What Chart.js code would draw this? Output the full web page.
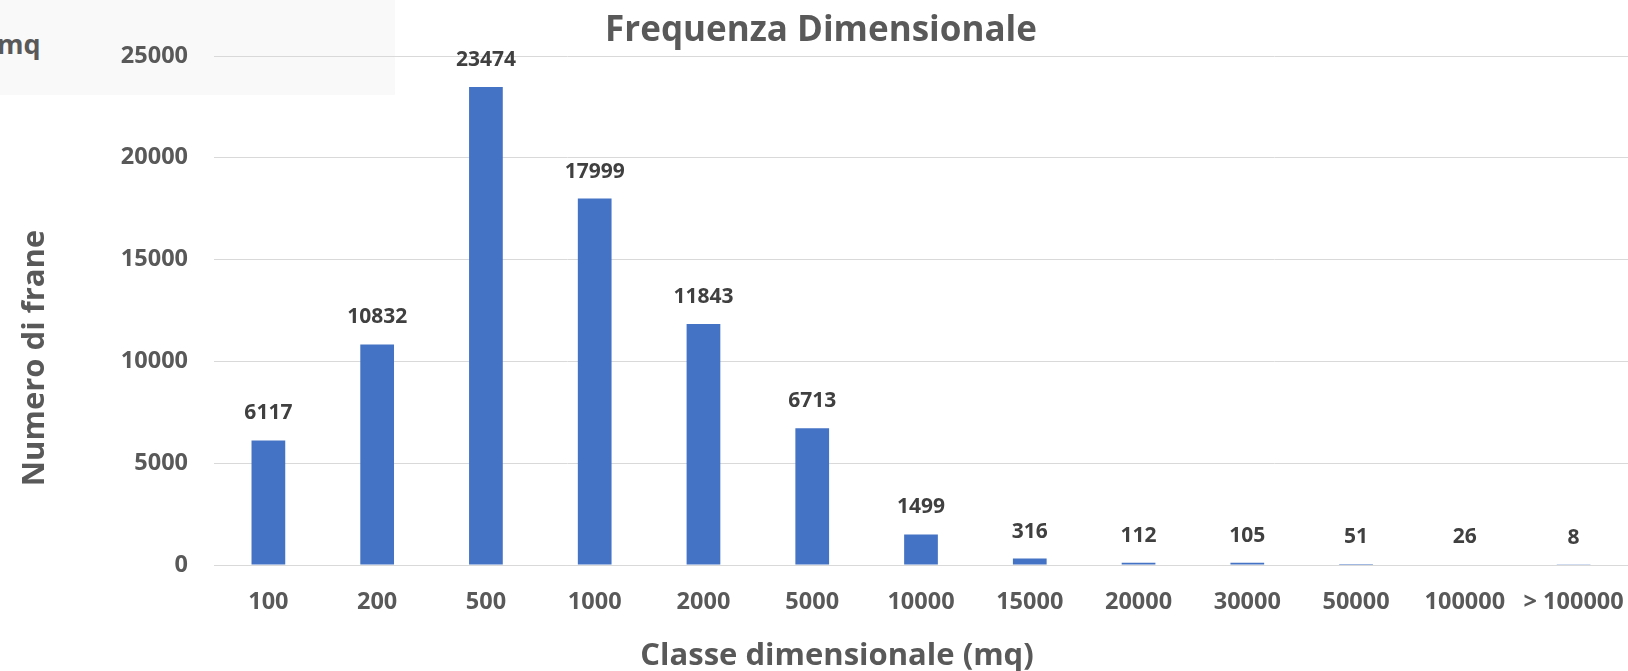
<!DOCTYPE html>
<html>
<head>
<meta charset="utf-8">
<script src="https://cdn.jsdelivr.net/npm/chart.js@4.4.0/dist/chart.umd.min.js"></script>
<style>
  html, body { margin: 0; padding: 0; background: #fff; }
  #wrap { position: relative; width: 1628px; height: 671px; overflow: hidden; }
  #box { position: absolute; left: 0; top: 0; width: 395px; height: 95px; background: #f9f9f9; }
  #box span { position: absolute; left: -3px; top: 25px; font: bold 27px "Open Sans", sans-serif; color: #595959; }
  canvas { position: absolute; left: 0; top: 0; }
</style>
</head>
<body>
<div id="wrap">
  <div id="box"><span>mq</span></div>
  <canvas id="chart" width="1628" height="671"></canvas>
</div>
<script>
const classi = ["100", "200", "500", "1000", "2000", "5000", "10000", "15000", "20000", "30000", "50000", "100000", "> 100000"];
const numeroFrane = [6117, 10832, 23474, 17999, 11843, 6713, 1499, 316, 112, 105, 51, 26, 8];
const yTicks = [0, 5000, 10000, 15000, 20000, 25000];

const grigio = "#595959";
const fontBase = "'Open Sans', sans-serif";

// etichette dei valori sopra le barre
const etichette = {
  id: "etichette",
  afterDatasetsDraw(chart) {
    const ctx = chart.ctx;
    const meta = chart.getDatasetMeta(0);
    ctx.save();
    ctx.font = "bold 21px " + fontBase;
    ctx.fillStyle = "#404040";
    ctx.textAlign = "center";
    ctx.textBaseline = "middle";
    meta.data.forEach((bar, i) => {
      ctx.fillText(numeroFrane[i], bar.x, bar.y - 27);
    });
    ctx.restore();
  }
};

// titolo e titoli degli assi
const testi = {
  id: "testi",
  afterDraw(chart) {
    const ctx = chart.ctx;
    ctx.save();
    ctx.fillStyle = grigio;
    ctx.textAlign = "center";
    ctx.textBaseline = "middle";
    ctx.font = "bold 35px " + fontBase;
    ctx.fillText("Frequenza Dimensionale", 821, 31);
    ctx.font = "bold 31px " + fontBase;
    ctx.fillText("Classe dimensionale (mq)", 837, 656);
    ctx.translate(35, 358);
    ctx.rotate(-Math.PI / 2);
    ctx.fillText("Numero di frane", 0, 0);
    ctx.restore();
  }
};

new Chart(document.getElementById("chart"), {
  type: "bar",
  data: {
    labels: classi,
    datasets: [{
      data: numeroFrane,
      backgroundColor: "#4472C4",
      barPercentage: 0.31,
      categoryPercentage: 1
    }]
  },
  options: {
    responsive: false,
    animation: false,
    layout: { padding: { top: 56, right: 0, left: 0, bottom: 0 } },
    plugins: {
      legend: { display: false },
      tooltip: { enabled: false },
      title: { display: false }
    },
    scales: {
      x: {
        afterFit(s) { s.height = 106; s.paddingLeft = 0; s.paddingRight = 0; },
        grid: { display: false, drawTicks: false },
        border: { color: "#d9d9d9", width: 1 },
        ticks: { color: grigio, font: { family: fontBase, size: 23.5, weight: "bold" }, padding: 23, maxRotation: 0, autoSkip: false }
      },
      y: {
        min: 0, max: 25000,
        afterFit(s) { s.width = 214; s.paddingTop = 0; s.paddingBottom = 0; },
        afterBuildTicks(s) { s.ticks = yTicks.map(v => ({ value: v })); },
        grid: { color: "#d9d9d9", drawTicks: false },
        border: { display: false },
        ticks: {
          color: grigio, font: { family: fontBase, size: 23.5, weight: "bold" }, padding: 26,
          callback: v => String(v)
        }
      }
    }
  },
  plugins: [etichette, testi]
});
</script>
</body>
</html>
